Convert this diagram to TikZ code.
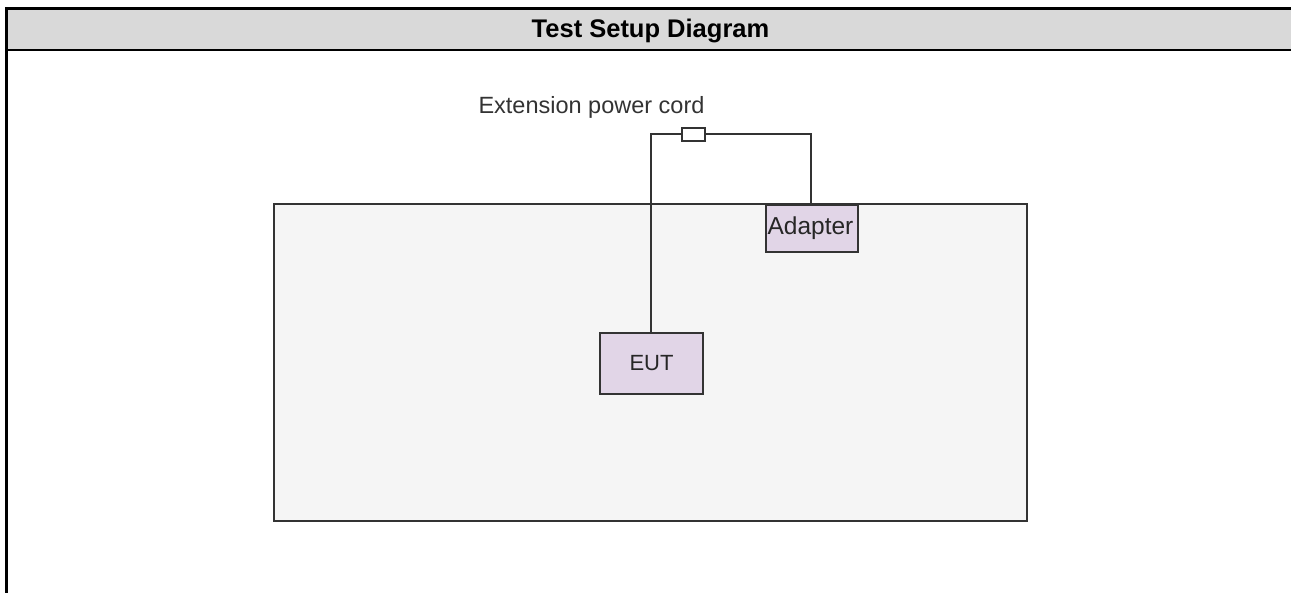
\documentclass[tikz,border=0pt]{standalone}
\usepackage{fontspec}
\setmainfont{Liberation Sans}
\definecolor{hdr}{HTML}{D9D9D9}
\definecolor{room}{HTML}{F5F5F5}
\definecolor{dev}{HTML}{E1D5E7}
\definecolor{edge}{HTML}{333333}
\begin{document}
\begin{tikzpicture}[x=1pt,y=-1pt,
  devbox/.style={draw=edge,fill=dev,line width=2pt,inner sep=0pt,text=black!85},
  cord/.style={draw=edge,line width=2pt}]
\useasboundingbox (0,0) rectangle (1291,593);
\fill[white] (0,0) rectangle (1291,593);
% header
\fill[hdr] (6,9) rectangle (1291,50);
\draw[line width=3pt] (1291,9) -- (6,9) -- (6,593);
\draw[line width=2.5pt] (6,50) -- (1291,50);
\node[font=\bfseries\fontsize{25.5}{28}\selectfont] (title) at (650.5,31) {Test Setup Diagram};
% room
\draw[draw=edge,fill=room,line width=2pt] (274,204) rectangle (1027,521);
\node[devbox,minimum width=92pt,minimum height=47pt,anchor=north west] (adapter) at (765,204) {};
\node[font=\fontsize{24.5}{28}\selectfont,text=black!85] (adlabel) at (810.5,228) {Adapter};
\node[devbox,minimum width=103pt,minimum height=61pt,anchor=north west,font=\fontsize{22}{26}\selectfont] (eut) at (599,332) {EUT};
% cord
\node[draw=edge,fill=white,line width=2pt,minimum width=23pt,minimum height=13pt,inner sep=0pt] (plug) at (693.5,134.5) {};
\coordinate (c1) at (650.5,134.5);
\coordinate (c2) at (810.5,134.5);
\draw[cord] (eut.north -| c1) -- (c1) -- (plug.west);
\draw[cord] (plug.east) -- (c2) -- (c2 |- adapter.north);
\node[font=\fontsize{23.5}{26}\selectfont,text=black!80] (cordlabel) at (591.5,107) {Extension power cord};
\end{tikzpicture}
\end{document}
